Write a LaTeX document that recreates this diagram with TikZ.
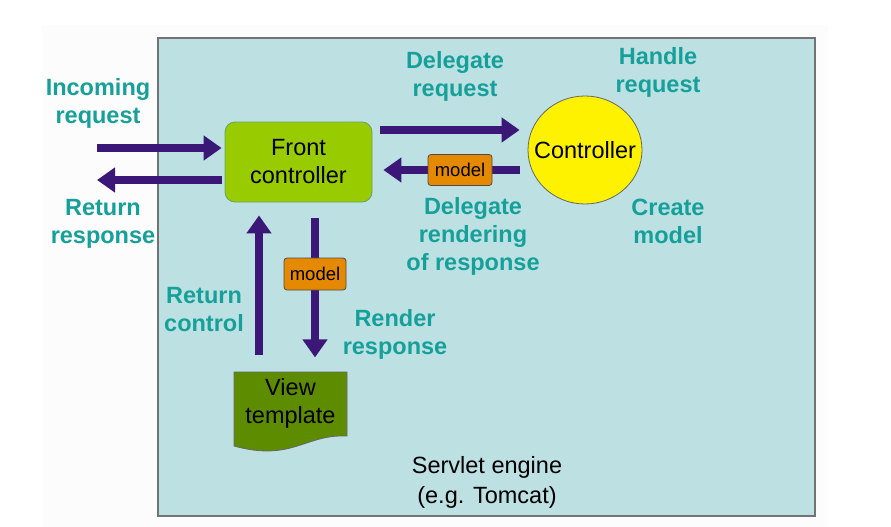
\documentclass[tikz,border=0pt]{standalone}
\usepackage{fontspec}
\setmainfont{Liberation Sans}
\usetikzlibrary{arrows.meta,shapes.geometric,calc}
\definecolor{bgteal}{HTML}{BDE0E3}
\definecolor{lbl}{HTML}{16A09A}
\definecolor{arr}{HTML}{3B1878}
\definecolor{fcgreen}{HTML}{99CC00}
\definecolor{vgreen}{HTML}{5E8C00}
\definecolor{morange}{HTML}{E58A00}
\definecolor{faint}{HTML}{FCFCFC}
\tikzset{
  lblstyle/.style={text=lbl, font=\fontsize{23.5}{28}\selectfont\bfseries, align=center},
  bigarrow/.style={draw=arr, line width=8pt, -{Triangle[width=24pt,length=18pt]}},
  fcbox/.style={draw=black!60!green!60, fill=fcgreen, rounded corners=10pt, line width=0.8pt, align=center, font=\fontsize{23.5}{28}\selectfont},
  modelbox/.style={draw=black!70, fill=morange, rounded corners=3pt, line width=0.8pt, font=\fontsize{18.5}{20}\selectfont, inner sep=0pt},
}
\begin{document}
\begin{tikzpicture}[x=1pt,y=-1pt]
\useasboundingbox (0,0) rectangle (891,527);
\fill[white] (0,0) rectangle (891,527);
\fill[faint] (42,25) rectangle (828,527);
\draw[fill=bgteal, draw=black!55, line width=1.2pt] (158,38) rectangle (815,516);
% nodes
\node[fcbox, minimum width=147pt, minimum height=80pt] (fc) at (298.5,162) {Front\\controller};
\node[ellipse, draw=black!60, fill=yellow, line width=0.8pt, minimum width=114pt, minimum height=108pt, inner sep=0pt] (ctrl) at (585,150) {};
\node[font=\fontsize{23.5}{28}\selectfont, inner sep=0pt] (ctrltext) at (ctrl.center) {Controller};
\draw[fill=vgreen, draw=black!60, line width=0.8pt] (234,372) -- (347,372) -- (347,436) .. controls (305,434) and (292,462) .. (234,446) -- cycle;
\node[align=center, font=\fontsize{23.5}{28}\selectfont] (view) at (290.5,403) {View\\template};
% arrows
\coordinate (inS) at (97,148);
\coordinate (outE) at (97,180);
\draw[bigarrow] (inS) -- ([xshift=-3pt]inS -| fc.west);
\draw[bigarrow] ([xshift=-3pt]outE -| fc.west) -- (outE);
\draw[bigarrow] ([xshift=8pt,yshift=32pt]fc.east) -- ([xshift=-8pt,yshift=20pt]ctrl.west);
\draw[bigarrow] ([xshift=-8pt,yshift=-20pt]ctrl.west) -- ([xshift=11pt,yshift=-8pt]fc.east);
\draw[bigarrow] ([xshift=-39.5pt,yshift=-153pt]fc.south) -- ([xshift=-39.5pt,yshift=-13pt]fc.south);
\draw[bigarrow] ([xshift=16.5pt,yshift=-16pt]fc.south) -- ([xshift=16.5pt,yshift=-155pt]fc.south);
\node[modelbox, minimum width=64pt, minimum height=31pt] (m1) at (460,170) {model};
\node[modelbox, minimum width=62pt, minimum height=32pt] (m2) at (315,274) {model};
% labels
\node[lblstyle] (l1) at (98,103) {Incoming\\request};
\node[lblstyle] (l2) at (103,224) {Return\\response};
\node[lblstyle] (l3) at (455,76) {Delegate\\request};
\node[lblstyle] (l4) at (658,72) {Handle\\request};
\node[lblstyle] (l5) at (473,236) {Delegate\\rendering\\of response};
\node[lblstyle] (l6) at (668,221) {Create\\model};
\node[lblstyle] (l7) at (204,310) {Return\\control};
\node[lblstyle] (l8) at (395,334) {Render\\response};
\node[align=center, font=\fontsize{23.5}{30}\selectfont] (eng) at (487,482) {Servlet engine\\(e.g. Tomcat)};
\end{tikzpicture}
\end{document}
